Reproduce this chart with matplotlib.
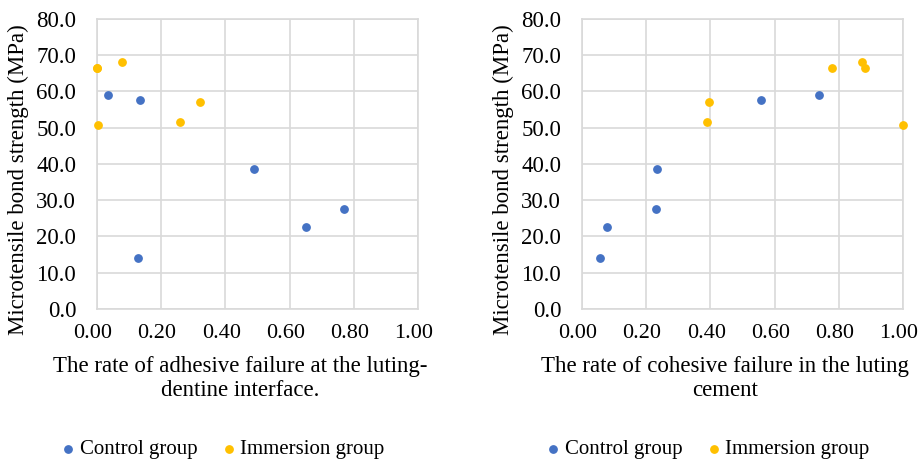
import matplotlib
matplotlib.use("Agg")
import matplotlib.pyplot as plt
import matplotlib.transforms as mtransforms

# adhesive failure rate (left) / cohesive failure rate (right) vs bond strength
control_strength = [59.0, 57.6, 14.2, 38.5, 22.6, 27.7]
control_adhesive = [0.034, 0.134, 0.127, 0.49, 0.65, 0.768]
control_cohesive = [0.737, 0.557, 0.057, 0.234, 0.077, 0.23]

immersion_strength = [66.4, 66.5, 68.2, 50.7, 51.7, 57.0]
immersion_adhesive = [0.0, 0.0, 0.077, 0.003, 0.26, 0.32]
immersion_cohesive = [0.78, 0.882, 0.872, 1.0, 0.389, 0.397]

xlabels = ["The rate of adhesive failure at the luting-\ndentine interface.",
           "The rate of cohesive failure in the luting\ncement"]
ylabel = "Microtensile bond strength (MPa)"
series_names = ["Control group", "Immersion group"]

blue = "#4472C4"
gold = "#FFC000"
gridc = "#d9d9d9"

plt.rcParams['font.family'] = ['Liberation Serif', 'DejaVu Serif']

fig = plt.figure(figsize=(9.21, 4.62), dpi=100)
ax1 = fig.add_axes([0.1053, 0.3312, 0.3486, 0.6277])
ax2 = fig.add_axes([0.6319, 0.3312, 0.3486, 0.6277])

shift = mtransforms.ScaledTranslation(-3 / 72, 0, fig.dpi_scale_trans)

for ax, cx, ix, xl in [(ax1, control_adhesive, immersion_adhesive, xlabels[0]),
                       (ax2, control_cohesive, immersion_cohesive, xlabels[1])]:
    ax.scatter(cx, control_strength, s=28, color=blue, label=series_names[0], zorder=3, clip_on=False)
    ax.scatter(ix, immersion_strength, s=28, color=gold, label=series_names[1], zorder=3, clip_on=False)
    ax.set_xlim(0, 1)
    ax.set_ylim(0, 80)
    ax.set_xticks([0, 0.2, 0.4, 0.6, 0.8, 1.0])
    ax.set_yticks(range(0, 81, 10))
    ax.set_xticklabels(["%.2f" % v for v in ax.get_xticks()])
    ax.set_yticklabels(["%.1f" % v for v in ax.get_yticks()])
    ax.tick_params(length=0, labelsize=16.5)
    ax.tick_params(axis='x', pad=11, labelsize=16)
    ax.tick_params(axis='y', pad=15)
    for lab in ax.get_xticklabels():
        lab.set_transform(lab.get_transform() + shift)
    ax.grid(True, color=gridc, linewidth=1.2)
    ax.set_axisbelow(True)
    for sp in ax.spines.values():
        sp.set_color(gridc)
        sp.set_linewidth(1.2)
    ax.set_xlabel(xl, fontsize=16.5, labelpad=9, linespacing=1.2, x=0.445)
    ax.set_ylabel(ylabel, fontsize=16.5, labelpad=5, y=0.445)
    ax.legend(loc='center', bbox_to_anchor=(0.395, -0.485), ncol=2, frameon=False,
              fontsize=15, markerscale=1, handlelength=0.5, handletextpad=0.3,
              columnspacing=1.25)

fig.savefig("out.png", dpi=100, facecolor="white")
